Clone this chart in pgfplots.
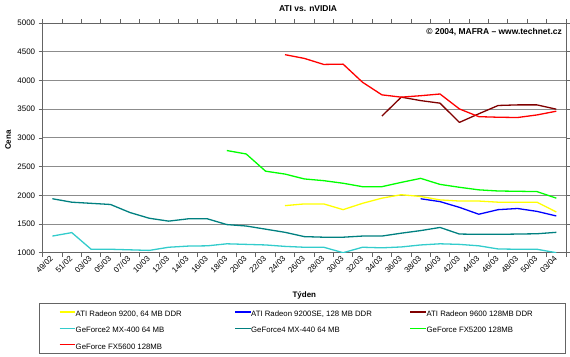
\documentclass[border=0pt]{standalone}
\usepackage{fontspec}
\setmainfont{Liberation Sans}
\usepackage{pgfplots}
\pgfplotsset{compat=1.18}
\definecolor{cA}{RGB}{255,255,0}
\definecolor{cB}{RGB}{0,0,255}
\definecolor{cC}{RGB}{128,0,0}
\definecolor{cD}{RGB}{51,204,204}
\definecolor{cE}{RGB}{0,128,128}
\definecolor{cF}{RGB}{0,255,0}
\definecolor{cG}{RGB}{255,0,0}
\definecolor{gridgray}{RGB}{140,140,140}
\definecolor{axgray}{RGB}{100,100,100}
\newcommand{\lent}[1]{\makebox[139bp][l]{\rule[-5.35bp]{0pt}{16.3bp}#1}}
\begin{document}
\begin{tikzpicture}
\useasboundingbox (-42.7bp,-104.3bp) rectangle (527.3bp,252.7bp);
\begin{axis}[
  scale only axis, width=523.3bp, height=229.6bp,
  at={(0,0)}, anchor=south west,
  clip mode=individual,
  xmin=-0.5, xmax=26.5, ymin=1000, ymax=5000,
  xtick={0,...,26},
  xticklabels={49/02,51/02,03/03,05/03,07/03,10/03,12/03,14/03,16/03,18/03,20/03,22/03,24/03,26/03,28/03,30/03,32/03,34/03,36/03,38/03,40/03,42/03,44/03,46/03,48/03,50/03,03/04},
  minor xtick={-0.5,0.5,...,26.5},
  ytick={1000,1500,...,5000},
  ymajorgrids,
  major grid style={gridgray, line width=0.9bp},
  axis line style={axgray, line width=0.9bp},
  tick align=outside,
  major tick length=4bp, minor tick length=4bp,
  major x tick style={draw=none},
  minor x tick style={axgray, line width=0.8bp},
  major y tick style={axgray, line width=0.8bp},
  tick label style={font=\fontsize{8}{9}\selectfont},
  yticklabel style={/pgf/number format/assume math mode=true, /pgf/number format/1000 sep={}},
  xticklabel style={rotate=45, anchor=east, inner sep=1bp},
  ylabel={\bfseries Cena},
  ylabel style={at={(-0.066,0.49)}, anchor=center, font=\fontsize{8}{9}\selectfont},
  xlabel={\bfseries Týden},
  xlabel style={at={(0.5,-0.184)}, anchor=center, font=\fontsize{8}{9}\selectfont},
  legend columns=3,
  legend cell align=left,
  legend style={at={(-0.0069,-0.2196)}, anchor=north west, draw=axgray,
    font=\fontsize{7.8}{9}\selectfont, inner xsep=0pt, inner ysep=0.4bp,
    nodes={inner sep=0pt}, /tikz/column sep=0pt, /tikz/row sep=0pt},
  legend image code/.code={\path[draw=none,fill=none] (-20.3bp,-8.15bp) rectangle (15.5bp,8.15bp);\draw[#1, line width=1.3bp] (0bp,0bp) -- (15.5bp,0bp);},
  every axis plot/.append style={line width=1.3bp, line join=round},
]
\addplot[cA] coordinates {(12,1820)(13,1850)(14,1850)(15,1750)(16,1860)(17,1950)(18,2010)(19,1980)(20,1920)(21,1900)(22,1900)(23,1880)(24,1880)(25,1880)(26,1710)};
\addlegendentry{\lent{ATI Radeon 9200, 64 MB DDR}}
\addplot[cB] coordinates {(19,1940)(20,1890)(21,1790)(22,1670)(23,1750)(24,1770)(25,1720)(26,1640)};
\addlegendentry{\lent{ATI Radeon 9200SE, 128 MB DDR}}
\addplot[cC] coordinates {(17,3380)(18,3710)(19,3650)(20,3605)(21,3270)(22,3420)(23,3565)(24,3575)(25,3575)(26,3500)};
\addlegendentry{\lent{ATI Radeon 9600 128MB DDR}}
\addplot[cD] coordinates {(0,1290)(1,1350)(2,1060)(3,1060)(4,1050)(5,1040)(6,1095)(7,1115)(8,1120)(9,1155)(10,1145)(11,1135)(12,1110)(13,1095)(14,1095)(15,1000)(16,1095)(17,1085)(18,1100)(19,1135)(20,1155)(21,1145)(22,1120)(23,1065)(24,1060)(25,1060)(26,1000)};
\addlegendentry{\lent{GeForce2 MX-400 64 MB}}
\addplot[cE] coordinates {(0,1940)(1,1880)(2,1860)(3,1840)(4,1700)(5,1600)(6,1550)(7,1590)(8,1590)(9,1490)(10,1465)(11,1410)(12,1355)(13,1280)(14,1270)(15,1270)(16,1290)(17,1290)(18,1340)(19,1385)(20,1440)(21,1325)(22,1320)(23,1320)(24,1325)(25,1330)(26,1355)};
\addlegendentry{\lent{GeForce4 MX-440 64 MB}}
\addplot[cF] coordinates {(9,2780)(10,2720)(11,2420)(12,2370)(13,2285)(14,2255)(15,2210)(16,2150)(17,2150)(18,2225)(19,2295)(20,2190)(21,2140)(22,2095)(23,2075)(24,2070)(25,2065)(26,1950)};
\addlegendentry{\lent{GeForce FX5200 128MB}}
\addplot[cG] coordinates {(12,4450)(13,4385)(14,4280)(15,4285)(16,3970)(17,3750)(18,3710)(19,3735)(20,3765)(21,3505)(22,3370)(23,3360)(24,3355)(25,3400)(26,3465)};
\addlegendentry{\lent{GeForce FX5600 128MB}}
\node[anchor=east, font=\bfseries\fontsize{8.5}{10}\selectfont, inner sep=0pt] at (rel axis cs:1,0.961) [xshift=-4bp] {© 2004, MAFRA – www.technet.cz};
\node[anchor=center, font=\bfseries\fontsize{8.5}{10}\selectfont, inner sep=0pt] at (rel axis cs:0.507,1.061) {ATI vs. nVIDIA};
\end{axis}
\end{tikzpicture}
\end{document}
